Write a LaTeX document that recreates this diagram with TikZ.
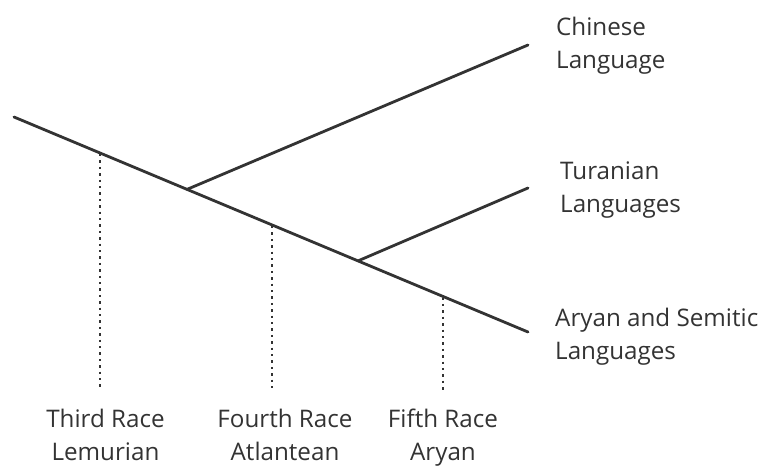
\documentclass[tikz,border=0pt]{standalone}
\usepackage{fontspec}
\setmainfont{Open Sans}
\definecolor{ink}{HTML}{333333}
\begin{document}
\begin{tikzpicture}[x=1pt,y=-1pt,
  branch/.style={draw=ink,line width=2.8pt,line cap=round},
  guide/.style={draw=ink,line width=2.6pt,dash pattern=on 2.4pt off 4pt},
  lbl/.style={text=ink,inner sep=0pt,align=left,font=\fontsize{24.2}{33}\selectfont},
  clbl/.style={text=ink,inner sep=0pt,align=center,font=\fontsize{24.2}{33}\selectfont}]
\useasboundingbox (0,0) rectangle (763,466);
\coordinate (root) at (14,117);
\coordinate (end) at (528,332);
\coordinate (b1) at (187,189.4);
\coordinate (b2) at (358,260.9);
\coordinate (c1) at (528,45);
\coordinate (c2) at (528,188);
\coordinate (d1t) at (100,154);
\coordinate (d2t) at (272,226);
\coordinate (d3t) at (443,297.5);
\coordinate (d1b) at (100,390);
\coordinate (d2b) at (272,390);
\coordinate (d3b) at (443,390);
\draw[guide] (d1t) -- (d1b);
\draw[guide] (d2t) -- (d2b);
\draw[guide] (d3t) -- (d3b);
\draw[branch] (root) -- (end);
\draw[branch] (b1) -- (c1);
\draw[branch] (b2) -- (c2);
\node[lbl,anchor=base west] (chinese) at (556,68) {Chinese\\Language};
\node[lbl,anchor=base west] (turanian) at (560,212) {Turanian\\Languages};
\node[lbl,anchor=base west] (aryan) at (555,359) {Aryan and Semitic\\Languages};
\node[clbl,anchor=base] (third) at (105.5,460) {Third Race\\Lemurian};
\node[clbl,anchor=base] (fourth) at (285,460) {Fourth Race\\Atlantean};
\node[clbl,anchor=base] (fifth) at (443,460) {Fifth Race\\Aryan};
\end{tikzpicture}
\end{document}
